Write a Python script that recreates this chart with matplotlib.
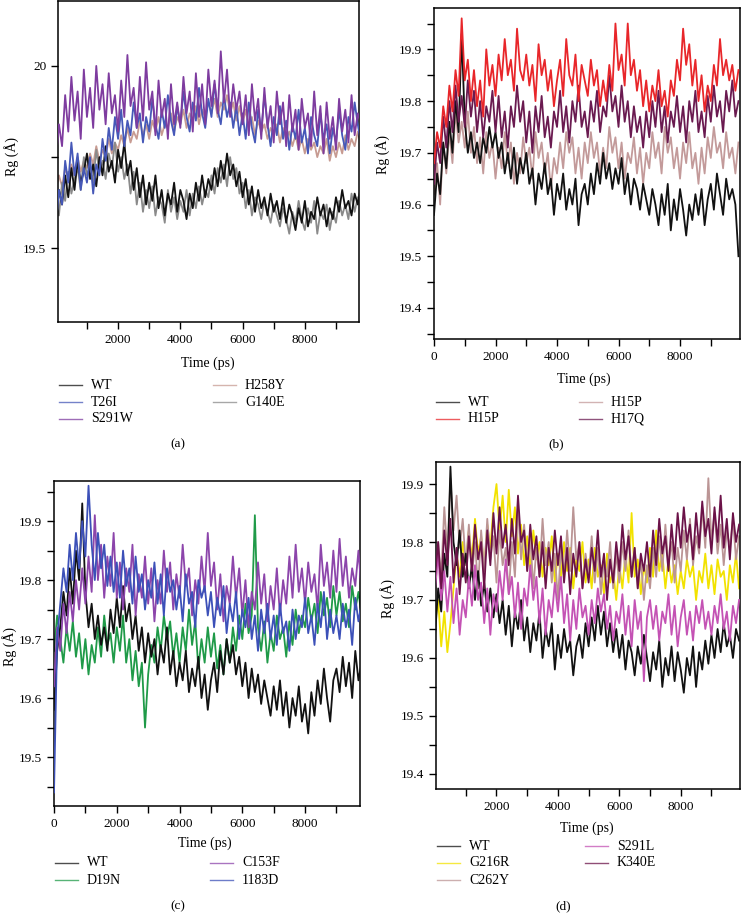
import numpy as np
import matplotlib
matplotlib.use("Agg")
import matplotlib.pyplot as plt
from matplotlib.lines import Line2D
from matplotlib.ticker import MultipleLocator

plt.rcParams['font.family'] = ['Liberation Serif', 'DejaVu Serif']

# time axis (ps), one sample every 100 ps
time = np.arange(0, 10000, 100)

# ---- panel (a) ----
wt_a = [19.58, 19.66, 19.62, 19.70, 19.64, 19.72, 19.66, 19.74, 19.68, 19.71,
        19.76, 19.69, 19.73, 19.67, 19.75, 19.70, 19.78, 19.71, 19.74, 19.68,
        19.77, 19.72, 19.79, 19.70, 19.74, 19.66, 19.72, 19.64, 19.70, 19.62,
        19.68, 19.63, 19.70, 19.61, 19.66, 19.59, 19.65, 19.62, 19.68, 19.60,
        19.66, 19.63, 19.58, 19.65, 19.61, 19.68, 19.63, 19.70, 19.64, 19.69,
        19.66, 19.72, 19.67, 19.74, 19.69, 19.76, 19.70, 19.73, 19.67, 19.71,
        19.64, 19.69, 19.62, 19.67, 19.60, 19.66, 19.61, 19.64, 19.59, 19.65,
        19.60, 19.63, 19.58, 19.64, 19.57, 19.62, 19.59, 19.55, 19.61, 19.57,
        19.63, 19.56, 19.60, 19.58, 19.64, 19.59, 19.62, 19.56, 19.61, 19.58,
        19.64, 19.60, 19.66, 19.61, 19.63, 19.59, 19.65, 19.62, 19.67, 19.64]
g140e_a = [19.62, 19.59, 19.68, 19.63, 19.71, 19.65, 19.69, 19.72, 19.66, 19.75,
           19.70, 19.73, 19.68, 19.77, 19.71, 19.74, 19.69, 19.76, 19.72, 19.79,
           19.71, 19.75, 19.69, 19.73, 19.65, 19.71, 19.62, 19.68, 19.60, 19.66,
           19.61, 19.67, 19.59, 19.64, 19.62, 19.57, 19.66, 19.60, 19.64, 19.58,
           19.63, 19.60, 19.66, 19.59, 19.65, 19.61, 19.67, 19.62, 19.66, 19.64,
           19.70, 19.65, 19.72, 19.68, 19.73, 19.67, 19.75, 19.69, 19.72, 19.65,
           19.68, 19.61, 19.66, 19.59, 19.64, 19.62, 19.58, 19.63, 19.60, 19.57,
           19.62, 19.59, 19.56, 19.61, 19.58, 19.54, 19.60, 19.57, 19.63, 19.58,
           19.55, 19.61, 19.57, 19.63, 19.54, 19.60, 19.58, 19.62, 19.55, 19.60,
           19.57, 19.63, 19.59, 19.62, 19.58, 19.65, 19.60, 19.64, 19.61, 19.66]
t26i_a = [19.56, 19.66, 19.62, 19.74, 19.68, 19.79, 19.70, 19.76, 19.66, 19.72,
          19.68, 19.75, 19.65, 19.73, 19.70, 19.80, 19.74, 19.83, 19.77, 19.86,
          19.80, 19.88, 19.78, 19.85, 19.81, 19.90, 19.83, 19.87, 19.79, 19.86,
          19.82, 19.91, 19.84, 19.80, 19.88, 19.83, 19.92, 19.85, 19.81, 19.89,
          19.84, 19.93, 19.86, 19.82, 19.90, 19.85, 19.94, 19.87, 19.83, 19.91,
          19.86, 19.95, 19.88, 19.84, 19.92, 19.86, 19.90, 19.83, 19.89, 19.81,
          19.87, 19.80, 19.90, 19.83, 19.79, 19.88, 19.82, 19.92, 19.84, 19.78,
          19.86, 19.81, 19.89, 19.80, 19.85, 19.77, 19.84, 19.80, 19.88, 19.79,
          19.83, 19.76, 19.86, 19.81, 19.78, 19.87, 19.80, 19.84, 19.76, 19.83,
          19.79, 19.88, 19.81, 19.77, 19.86, 19.82, 19.90, 19.84, 19.79, 19.87]
s291w_a = [19.74, 19.84, 19.78, 19.92, 19.82, 19.97, 19.85, 19.93, 19.80, 19.99,
           19.86, 19.94, 19.83, 20.00, 19.88, 19.95, 19.84, 19.98, 19.87, 19.92,
           19.82, 19.96, 19.86, 20.03, 19.89, 19.94, 19.83, 19.97, 19.85, 20.01,
           19.88, 19.93, 19.81, 19.96, 19.86, 19.91, 19.80, 19.95, 19.84, 19.90,
           19.83, 19.97, 19.87, 19.93, 19.82, 19.98, 19.86, 19.95, 19.84, 19.99,
           19.89, 19.96, 19.87, 20.04, 19.90, 19.99, 19.86, 19.95, 19.88, 19.93,
           19.84, 19.92, 19.81, 19.95, 19.85, 19.91, 19.80, 19.94, 19.83, 19.89,
           19.79, 19.93, 19.84, 19.90, 19.78, 19.92, 19.82, 19.88, 19.77, 19.91,
           19.83, 19.87, 19.78, 19.93, 19.81, 19.89, 19.76, 19.90, 19.80, 19.86,
           19.77, 19.91, 19.82, 19.88, 19.79, 19.92, 19.81, 19.87, 19.84, 19.90]
h258y_a = [19.66, 19.70, 19.67, 19.72, 19.69, 19.73, 19.70, 19.75, 19.71, 19.74,
           19.72, 19.76, 19.73, 19.78, 19.74, 19.77, 19.75, 19.80, 19.76, 19.79,
           19.77, 19.81, 19.78, 19.83, 19.79, 19.82, 19.80, 19.85, 19.81, 19.84,
           19.80, 19.85, 19.82, 19.86, 19.81, 19.84, 19.83, 19.87, 19.82, 19.86,
           19.84, 19.88, 19.83, 19.87, 19.85, 19.89, 19.84, 19.88, 19.86, 19.90,
           19.87, 19.91, 19.86, 19.90, 19.88, 19.92, 19.87, 19.90, 19.85, 19.89,
           19.84, 19.88, 19.83, 19.86, 19.81, 19.85, 19.82, 19.84, 19.80, 19.83,
           19.81, 19.84, 19.79, 19.83, 19.80, 19.82, 19.78, 19.81, 19.77, 19.80,
           19.76, 19.80, 19.77, 19.79, 19.75, 19.78, 19.76, 19.80, 19.74, 19.78,
           19.75, 19.79, 19.76, 19.81, 19.77, 19.80, 19.78, 19.82, 19.79, 19.81]

# ---- panel (b) ----
wt_b = [19.58, 19.66, 19.62, 19.72, 19.67, 19.76, 19.70, 19.80, 19.74, 19.93,
        19.76, 19.70, 19.74, 19.69, 19.72, 19.68, 19.73, 19.70, 19.75, 19.71,
        19.74, 19.69, 19.72, 19.66, 19.70, 19.65, 19.71, 19.64, 19.69, 19.66,
        19.70, 19.64, 19.67, 19.60, 19.66, 19.63, 19.68, 19.62, 19.65, 19.58,
        19.64, 19.61, 19.66, 19.59, 19.63, 19.60, 19.65, 19.56, 19.62, 19.64,
        19.60, 19.66, 19.62, 19.68, 19.64, 19.70, 19.65, 19.68, 19.63, 19.67,
        19.64, 19.69, 19.62, 19.66, 19.60, 19.65, 19.63, 19.59, 19.64, 19.61,
        19.58, 19.63, 19.60, 19.56, 19.62, 19.58, 19.64, 19.55, 19.61, 19.57,
        19.63, 19.59, 19.54, 19.60, 19.57, 19.62, 19.58, 19.63, 19.56, 19.61,
        19.64, 19.59, 19.66, 19.62, 19.58, 19.65, 19.61, 19.63, 19.60, 19.50]
h15p_red_b = [19.68, 19.74, 19.71, 19.79, 19.75, 19.83, 19.78, 19.86, 19.81, 19.96,
              19.84, 19.88, 19.80, 19.86, 19.79, 19.84, 19.77, 19.90, 19.83, 19.87,
              19.81, 19.89, 19.84, 19.92, 19.85, 19.88, 19.82, 19.94, 19.86, 19.84,
              19.89, 19.83, 19.87, 19.80, 19.91, 19.85, 19.88, 19.82, 19.86, 19.79,
              19.84, 19.88, 19.81, 19.92, 19.85, 19.83, 19.89, 19.80, 19.87, 19.84,
              19.81, 19.88, 19.83, 19.86, 19.79, 19.84, 19.80, 19.87, 19.82, 19.95,
              19.86, 19.89, 19.83, 19.95, 19.85, 19.88, 19.82, 19.86, 19.79, 19.84,
              19.78, 19.83, 19.80, 19.86, 19.79, 19.82, 19.77, 19.84, 19.81, 19.88,
              19.84, 19.94, 19.87, 19.91, 19.83, 19.88, 19.80, 19.85, 19.78, 19.83,
              19.80, 19.87, 19.83, 19.92, 19.85, 19.88, 19.84, 19.87, 19.82, 19.86]
h15p_b = [19.62, 19.68, 19.60, 19.72, 19.66, 19.74, 19.68, 19.78, 19.72, 19.76,
          19.71, 19.78, 19.70, 19.75, 19.68, 19.73, 19.66, 19.74, 19.69, 19.72,
          19.65, 19.71, 19.67, 19.74, 19.68, 19.72, 19.64, 19.70, 19.66, 19.73,
          19.68, 19.71, 19.65, 19.74, 19.69, 19.72, 19.66, 19.70, 19.63, 19.69,
          19.66, 19.72, 19.67, 19.74, 19.70, 19.73, 19.66, 19.71, 19.65, 19.72,
          19.68, 19.74, 19.69, 19.72, 19.66, 19.71, 19.67, 19.75, 19.70, 19.73,
          19.67, 19.72, 19.65, 19.70, 19.68, 19.73, 19.66, 19.71, 19.64, 19.70,
          19.67, 19.74, 19.69, 19.72, 19.66, 19.75, 19.70, 19.73, 19.67, 19.71,
          19.65, 19.72, 19.68, 19.74, 19.67, 19.70, 19.64, 19.71, 19.66, 19.73,
          19.69, 19.75, 19.70, 19.72, 19.67, 19.74, 19.69, 19.71, 19.66, 19.72]
h17q_b = [19.64, 19.72, 19.68, 19.77, 19.71, 19.80, 19.74, 19.83, 19.76, 19.81,
          19.75, 19.84, 19.77, 19.82, 19.74, 19.80, 19.73, 19.79, 19.76, 19.82,
          19.74, 19.81, 19.73, 19.78, 19.71, 19.79, 19.75, 19.83, 19.76, 19.80,
          19.72, 19.78, 19.70, 19.79, 19.74, 19.81, 19.73, 19.77, 19.71, 19.78,
          19.75, 19.82, 19.74, 19.79, 19.72, 19.80, 19.76, 19.83, 19.75, 19.78,
          19.73, 19.80, 19.76, 19.82, 19.74, 19.79, 19.77, 19.85, 19.78, 19.81,
          19.75, 19.83, 19.76, 19.80, 19.73, 19.79, 19.74, 19.77, 19.71, 19.78,
          19.73, 19.80, 19.75, 19.82, 19.74, 19.79, 19.72, 19.78, 19.75, 19.81,
          19.74, 19.79, 19.72, 19.80, 19.76, 19.82, 19.74, 19.78, 19.73, 19.81,
          19.76, 19.83, 19.77, 19.80, 19.74, 19.82, 19.78, 19.84, 19.77, 19.80]

# ---- panel (c) ----
wt_c = [19.58, 19.68, 19.72, 19.78, 19.74, 19.82, 19.76, 19.85, 19.80, 19.93,
        19.78, 19.72, 19.76, 19.70, 19.74, 19.69, 19.72, 19.68, 19.75, 19.71,
        19.77, 19.72, 19.79, 19.73, 19.76, 19.70, 19.74, 19.68, 19.72, 19.66,
        19.71, 19.67, 19.70, 19.64, 19.69, 19.66, 19.72, 19.64, 19.68, 19.62,
        19.66, 19.63, 19.68, 19.61, 19.65, 19.62, 19.67, 19.60, 19.64, 19.58,
        19.63, 19.66, 19.61, 19.68, 19.64, 19.70, 19.66, 19.69, 19.64, 19.67,
        19.62, 19.66, 19.60, 19.65, 19.61, 19.64, 19.59, 19.63, 19.60, 19.57,
        19.62, 19.58, 19.63, 19.57, 19.61, 19.55, 19.60, 19.57, 19.62, 19.56,
        19.59, 19.54, 19.61, 19.57, 19.63, 19.59, 19.65, 19.60, 19.56, 19.63,
        19.65, 19.61, 19.67, 19.62, 19.66, 19.60, 19.68, 19.63, 19.66, 19.62]
d19n_c = [19.68, 19.74, 19.70, 19.66, 19.72, 19.68, 19.73, 19.67, 19.71, 19.65,
          19.70, 19.64, 19.69, 19.66, 19.72, 19.67, 19.74, 19.69, 19.71, 19.66,
          19.72, 19.68, 19.74, 19.66, 19.70, 19.63, 19.68, 19.62, 19.66, 19.55,
          19.64, 19.69, 19.66, 19.72, 19.68, 19.74, 19.70, 19.73, 19.67, 19.71,
          19.66, 19.72, 19.68, 19.75, 19.69, 19.73, 19.65, 19.70, 19.66, 19.72,
          19.67, 19.71, 19.65, 19.69, 19.64, 19.70, 19.66, 19.72, 19.68, 19.74,
          19.70, 19.76, 19.71, 19.74, 19.91, 19.72, 19.68, 19.73, 19.66, 19.71,
          19.68, 19.74, 19.70, 19.72, 19.67, 19.73, 19.69, 19.75, 19.71, 19.74,
          19.72, 19.77, 19.73, 19.76, 19.71, 19.78, 19.74, 19.77, 19.72, 19.79,
          19.74, 19.78, 19.73, 19.76, 19.72, 19.79, 19.75, 19.78, 19.74, 19.77]
c153f_c = [19.62, 19.72, 19.68, 19.76, 19.71, 19.78, 19.73, 19.80, 19.75, 19.82,
           19.76, 19.84, 19.78, 19.91, 19.80, 19.86, 19.77, 19.84, 19.79, 19.88,
           19.77, 19.83, 19.75, 19.82, 19.78, 19.86, 19.74, 19.81, 19.77, 19.84,
           19.76, 19.82, 19.73, 19.80, 19.76, 19.85, 19.78, 19.83, 19.75, 19.81,
           19.77, 19.86, 19.79, 19.82, 19.74, 19.80, 19.76, 19.84, 19.78, 19.88,
           19.79, 19.83, 19.75, 19.81, 19.73, 19.79, 19.76, 19.84, 19.77, 19.82,
           19.74, 19.80, 19.72, 19.78, 19.75, 19.83, 19.76, 19.81, 19.73, 19.79,
           19.75, 19.82, 19.74, 19.80, 19.76, 19.84, 19.77, 19.86, 19.78, 19.82,
           19.76, 19.83, 19.78, 19.81, 19.75, 19.86, 19.79, 19.83, 19.77, 19.85,
           19.78, 19.87, 19.79, 19.84, 19.77, 19.82, 19.79, 19.85, 19.78, 19.83]
i183d_c = [19.44, 19.70, 19.76, 19.82, 19.78, 19.86, 19.80, 19.88, 19.82, 19.90,
           19.84, 19.96, 19.86, 19.80, 19.88, 19.82, 19.86, 19.79, 19.84, 19.78,
           19.83, 19.77, 19.85, 19.79, 19.82, 19.76, 19.84, 19.78, 19.81, 19.75,
           19.80, 19.77, 19.83, 19.76, 19.81, 19.74, 19.82, 19.78, 19.80, 19.75,
           19.79, 19.73, 19.81, 19.76, 19.78, 19.72, 19.80, 19.77, 19.79, 19.74,
           19.78, 19.72, 19.77, 19.74, 19.79, 19.71, 19.76, 19.73, 19.78, 19.70,
           19.75, 19.72, 19.77, 19.70, 19.74, 19.68, 19.75, 19.71, 19.76, 19.70,
           19.74, 19.69, 19.76, 19.71, 19.73, 19.68, 19.75, 19.70, 19.74, 19.72,
           19.77, 19.71, 19.74, 19.69, 19.76, 19.72, 19.78, 19.70, 19.75, 19.71,
           19.74, 19.70, 19.76, 19.72, 19.75, 19.69, 19.77, 19.73, 19.76, 19.71]

# ---- panel (d) ----
wt_d = [19.64, 19.72, 19.68, 19.78, 19.74, 19.93, 19.80, 19.76, 19.82, 19.74,
        19.78, 19.72, 19.76, 19.70, 19.75, 19.69, 19.73, 19.68, 19.72, 19.67,
        19.71, 19.66, 19.70, 19.64, 19.69, 19.62, 19.68, 19.65, 19.70, 19.63,
        19.67, 19.61, 19.66, 19.63, 19.68, 19.60, 19.65, 19.62, 19.66, 19.58,
        19.64, 19.60, 19.65, 19.61, 19.63, 19.57, 19.62, 19.64, 19.60, 19.66,
        19.62, 19.67, 19.63, 19.69, 19.64, 19.68, 19.62, 19.66, 19.61, 19.65,
        19.60, 19.64, 19.58, 19.63, 19.61, 19.57, 19.62, 19.59, 19.64, 19.60,
        19.56, 19.61, 19.58, 19.63, 19.55, 19.60, 19.57, 19.62, 19.56, 19.61,
        19.58, 19.54, 19.60, 19.57, 19.62, 19.55, 19.61, 19.58, 19.63, 19.59,
        19.64, 19.60, 19.65, 19.61, 19.66, 19.62, 19.64, 19.60, 19.65, 19.63]
g216r_d = [19.66, 19.70, 19.62, 19.68, 19.61, 19.66, 19.72, 19.78, 19.74, 19.80,
           19.76, 19.82, 19.77, 19.84, 19.78, 19.81, 19.75, 19.83, 19.79, 19.86,
           19.90, 19.82, 19.88, 19.80, 19.89, 19.81, 19.86, 19.78, 19.83, 19.76,
           19.81, 19.75, 19.82, 19.77, 19.80, 19.74, 19.79, 19.76, 19.81, 19.73,
           19.78, 19.74, 19.80, 19.75, 19.79, 19.72, 19.77, 19.75, 19.80, 19.73,
           19.77, 19.72, 19.79, 19.74, 19.76, 19.71, 19.78, 19.73, 19.75, 19.70,
           19.76, 19.72, 19.78, 19.73, 19.85, 19.74, 19.77, 19.71, 19.76, 19.73,
           19.79, 19.74, 19.82, 19.75, 19.78, 19.72, 19.77, 19.73, 19.76, 19.71,
           19.75, 19.72, 19.77, 19.74, 19.76, 19.70, 19.75, 19.73, 19.78, 19.72,
           19.76, 19.71, 19.77, 19.74, 19.75, 19.70, 19.76, 19.73, 19.78, 19.72]
c262y_d = [19.70, 19.80, 19.74, 19.86, 19.78, 19.91, 19.82, 19.88, 19.79, 19.84,
           19.76, 19.83, 19.74, 19.80, 19.72, 19.82, 19.75, 19.84, 19.77, 19.81,
           19.73, 19.82, 19.76, 19.79, 19.71, 19.80, 19.74, 19.86, 19.77, 19.83,
           19.75, 19.81, 19.72, 19.79, 19.74, 19.84, 19.76, 19.80, 19.73, 19.78,
           19.70, 19.79, 19.74, 19.82, 19.75, 19.86, 19.77, 19.80, 19.72, 19.78,
           19.74, 19.81, 19.73, 19.79, 19.71, 19.77, 19.74, 19.80, 19.72, 19.78,
           19.73, 19.80, 19.75, 19.82, 19.74, 19.79, 19.72, 19.77, 19.70, 19.76,
           19.72, 19.79, 19.74, 19.81, 19.75, 19.83, 19.76, 19.80, 19.73, 19.79,
           19.75, 19.82, 19.77, 19.84, 19.76, 19.81, 19.78, 19.86, 19.79, 19.91,
           19.80, 19.85, 19.78, 19.83, 19.76, 19.82, 19.79, 19.84, 19.77, 19.81]
s291l_d = [19.72, 19.78, 19.70, 19.75, 19.68, 19.74, 19.66, 19.72, 19.64, 19.70,
           19.67, 19.74, 19.69, 19.76, 19.70, 19.73, 19.66, 19.72, 19.64, 19.71,
           19.68, 19.75, 19.70, 19.77, 19.71, 19.74, 19.67, 19.73, 19.65, 19.72,
           19.69, 19.76, 19.70, 19.74, 19.66, 19.72, 19.64, 19.70, 19.67, 19.73,
           19.68, 19.74, 19.66, 19.71, 19.63, 19.70, 19.65, 19.72, 19.67, 19.69,
           19.64, 19.70, 19.66, 19.72, 19.68, 19.71, 19.65, 19.69, 19.63, 19.68,
           19.66, 19.71, 19.64, 19.69, 19.62, 19.70, 19.65, 19.68, 19.56, 19.67,
           19.70, 19.65, 19.69, 19.63, 19.68, 19.66, 19.71, 19.64, 19.69, 19.62,
           19.67, 19.70, 19.64, 19.68, 19.63, 19.69, 19.66, 19.70, 19.65, 19.68,
           19.64, 19.69, 19.66, 19.71, 19.65, 19.68, 19.63, 19.69, 19.66, 19.70]
k340e_d = [19.74, 19.80, 19.72, 19.82, 19.76, 19.84, 19.73, 19.79, 19.71, 19.78,
           19.73, 19.81, 19.75, 19.83, 19.77, 19.80, 19.72, 19.82, 19.76, 19.85,
           19.78, 19.86, 19.79, 19.83, 19.76, 19.84, 19.78, 19.88, 19.80, 19.82,
           19.75, 19.83, 19.77, 19.81, 19.74, 19.80, 19.72, 19.79, 19.75, 19.82,
           19.76, 19.81, 19.73, 19.79, 19.71, 19.78, 19.74, 19.80, 19.72, 19.77,
           19.73, 19.79, 19.75, 19.82, 19.74, 19.78, 19.70, 19.77, 19.73, 19.80,
           19.75, 19.83, 19.77, 19.81, 19.74, 19.79, 19.72, 19.78, 19.75, 19.80,
           19.74, 19.82, 19.76, 19.84, 19.78, 19.81, 19.75, 19.83, 19.77, 19.85,
           19.79, 19.86, 19.80, 19.83, 19.77, 19.85, 19.79, 19.87, 19.81, 19.84,
           19.78, 19.86, 19.80, 19.88, 19.79, 19.84, 19.77, 19.85, 19.80, 19.83]

W, H = 741, 924
fig = plt.figure(figsize=(W / 100, H / 100), dpi=100)


def px_axes(l, t, r, b):
    return fig.add_axes([l / W, 1 - b / H, (r - l) / W, (b - t) / H])


def fx(x):
    return x / W


def fy(y):
    return 1 - y / H


def panel(box, series, xlim, ylim, ymaj, ymin, xlab_xy, ylab_xy, cap_xy, cap,
          leg_x, leg_y):
    ax = px_axes(*box)
    for name, vals, col, z in series:
        ax.plot(time, vals, color=col, lw=1.3, zorder=z)
    ax.set_xlim(*xlim)
    ax.set_ylim(*ylim)
    ax.xaxis.set_major_locator(MultipleLocator(2000))
    ax.xaxis.set_minor_locator(MultipleLocator(1000))
    ax.yaxis.set_major_locator(MultipleLocator(ymaj))
    ax.yaxis.set_minor_locator(MultipleLocator(ymin))
    ax.yaxis.set_major_formatter(plt.FuncFormatter(lambda v, p: ('%g' % round(v, 2))))
    ax.tick_params(which='major', direction='out', length=5, width=1, labelsize=9.5)
    ax.tick_params(which='minor', direction='out', length=5, width=1)
    for s in ax.spines.values():
        s.set_linewidth(1.1)
    fig.text(fx(xlab_xy[0]), fy(xlab_xy[1]), 'Time (ps)', ha='center', va='center', fontsize=10)
    fig.text(fx(ylab_xy[0]), fy(ylab_xy[1]), 'Rg (Å)', ha='center', va='center', fontsize=10,
             rotation=90)
    fig.text(fx(cap_xy[0]), fy(cap_xy[1]), cap, ha='center', va='center', fontsize=9.5)
    # legend drawn in two columns below the axes
    n1 = (len(series) + 1) // 2
    for i, (name, vals, col, z) in enumerate(series):
        c = 0 if i < n1 else 1
        r = i if i < n1 else i - n1
        x0 = leg_x[c]
        y0 = leg_y + 17 * r
        fig.add_artist(Line2D([fx(x0), fx(x0 + 23)], [fy(y0), fy(y0)], color=col, lw=1.0,
                              alpha=0.75))
        fig.text(fx(x0 + 32), fy(y0), name, ha='left', va='center', fontsize=10)
    return ax


panel((58, 1, 359, 322),
      [('WT', wt_a, '#111111', 3),
       ('T26I', t26i_a, '#4658b8', 4),
       ('S291W', s291w_a, '#7e3c9f', 5),
       ('H258Y', h258y_a, '#c79b92', 2),
       ('G140E', g140e_a, '#8a8a8a', 2)],
      (70, 9740), (19.298, 20.178), 0.5, 0.25,
      (208, 363), (12, 157), (178, 444), '(a)', (59, 213), 385)

panel((434, 8, 740, 339),
      [('WT', wt_b, '#111111', 3),
       ('H15P', h15p_red_b, '#e8262a', 5),
       ('H15P', h15p_b, '#c39a9a', 2),
       ('H17Q', h17q_b, '#6a1a50', 4)],
      (0, 9950), (19.34, 19.98), 0.1, 0.05,
      (584, 379), (383, 154), (556, 444), '(b)', (436, 579), 402)

panel((54, 481, 360, 806),
      [('WT', wt_c, '#111111', 3),
       ('D19N', d19n_c, '#1f9a48', 2),
       ('C153F', c153f_c, '#8c45ab', 4),
       ('1183D', i183d_c, '#3c50b8', 5)],
      (0, 9750), (19.417, 19.968), 0.1, 0.05,
      (205, 843), (10, 647), (178, 906), '(c)', (55, 210), 863)

panel((436, 462, 740, 789),
      [('WT', wt_d, '#111111', 3),
       ('G216R', g216r_d, '#f2e200', 2),
       ('C262Y', c262y_d, '#bb9595', 2),
       ('S291L', s291l_d, '#c452b4', 4),
       ('K340E', k340e_d, '#6b1248', 5)],
      (30, 9930), (19.374, 19.938), 0.1, 0.05,
      (587, 828), (388, 599), (563, 906), '(d)', (437, 585), 846)

fig.savefig('out.png', dpi=100)
